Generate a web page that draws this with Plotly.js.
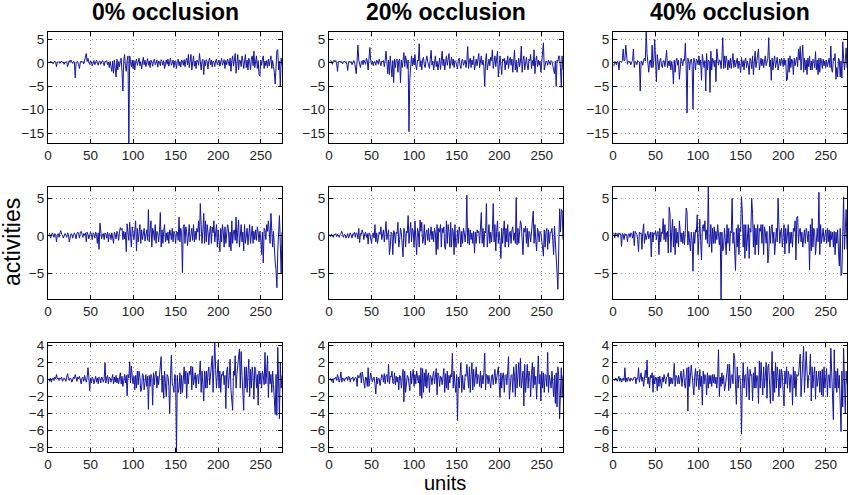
<!DOCTYPE html>
<html>
<head>
<meta charset="utf-8">
<script src="https://cdn.plot.ly/plotly-3.0.1.min.js"></script>
<style>body{margin:0;background:#fff;}</style>
</head>
<body>
<div id="chart-activities" style="width:850px;height:495px;"></div>
<script>
// activities per unit, one array per panel (row = layer, column = occlusion level)
var r1_occ0 = [
 0.2,0.1,0.3,0.2,0.1,-0.2,0.3,0.4,0.1,-0.8,0.2,0.1,0.3,-0.1,0.2,0.4,0.1,0.2,-0.3,0.2,0.1,0.3,-0.8,0.2,0.5,
 0.1,0.6,0.2,-0.1,0.3,0.2,-3.2,0.1,0.3,0.2,-0.4,-1.2,0.2,0.4,0.1,0.3,-0.2,0.5,1.0,2.0,0.3,1.0,0.2,-0.3,0.4,
 0.2,-0.6,0.3,0.5,-0.4,0.2,0.6,0.1,-0.5,0.3,0.4,-0.3,0.2,0.5,0.1,-0.6,0.3,0.2,0.5,-0.4,0.2,-1.0,0.3,-0.8,-1.8,
 0.4,-2.2,0.6,-1.2,-3.0,0.8,-1.5,0.3,-0.8,0.5,1.0,-2.0,-6.0,0.4,1.8,-0.6,-1.8,0.5,1.5,-17.1,1.5,0.3,-0.8,0.6,-1.2,
 0.5,-1.5,0.3,0.8,-0.5,0.4,1.0,-0.6,0.3,-1.3,0.5,1.2,-0.4,0.6,-0.8,0.3,0.9,-0.5,0.4,-1.0,0.6,0.2,-0.7,0.5,0.8,
 -0.4,0.3,0.6,-0.9,0.4,0.2,-0.6,0.7,0.3,-0.5,0.5,-1.2,0.4,0.6,-0.3,0.8,-0.7,0.4,1.0,-0.5,0.3,0.6,-1.0,0.4,0.2,
 -1.2,0.5,0.8,-0.6,0.3,-0.9,0.6,0.4,-0.5,0.7,-0.8,0.5,1.0,-0.4,1.8,-1.0,0.6,1.8,-1.5,0.5,1.5,-0.7,0.4,-1.2,0.6,
 0.4,-0.5,2.0,0.6,-1.5,0.3,0.8,-2.5,0.5,-0.6,0.7,0.3,-1.3,0.5,1.0,-0.4,0.6,-0.9,0.4,0.2,-0.8,0.5,0.8,-0.4,0.3,
 0.6,-0.7,0.4,1.0,-0.5,0.3,0.7,-1.2,0.5,-0.4,0.8,0.3,-0.6,1.0,-1.8,0.5,1.5,-0.7,0.6,2.0,-2.2,0.4,1.8,-1.5,0.6,
 0.5,-0.8,1.5,0.6,-1.2,0.4,1.8,-1.0,0.6,-1.5,1.0,0.3,-1.5,0.8,1.5,-0.6,2.5,-1.0,0.7,1.5,-1.2,0.5,-2.5,-2.8,0.6,
 -0.5,0.8,1.5,-1.2,0.4,-0.6,0.5,-1.0,0.8,-0.6,0.4,1.5,-1.2,0.5,-0.8,-2.0,-4.5,0.6,2.7,2.8,-1.5,0.4,-5.0,1.0,-0.5
];
var r1_occ20 = [
 0.3,0.5,0.2,-0.3,0.4,0.6,0.2,0.5,-0.2,-1.8,0.3,0.2,0.4,0.1,0.3,-0.2,0.2,0.4,0.1,0.3,-0.3,-1.6,0.2,0.4,0.1,
 0.3,-0.4,0.2,0.5,0.3,-0.6,-2.3,0.4,3.8,0.6,-0.5,-1.0,0.3,0.5,-0.4,0.6,0.2,-0.3,1.0,0.4,-1.5,0.3,3.3,0.5,-0.3,
 0.4,-0.6,0.2,0.3,-0.5,0.6,0.4,-0.3,0.8,0.2,-0.6,0.4,0.3,0.5,-0.8,0.6,2.5,0.4,-2.3,0.6,-2.5,1.5,-0.8,-3.0,0.5,
 -4.2,0.8,-1.0,0.6,0.8,-2.0,0.5,0.8,-4.2,0.6,-1.0,0.5,2.2,-0.8,1.5,0.4,-1.2,0.6,-14.7,-3.2,0.5,1.5,-0.6,1.0,-0.4,
 1.8,-0.5,-1.5,0.6,0.4,4.1,-0.8,0.5,-1.5,0.6,1.2,-0.4,-1.0,0.5,1.5,0.3,-0.6,-1.2,0.8,2.7,-0.5,0.4,-1.5,0.6,1.5,
 -0.8,0.4,-1.5,0.6,1.0,-1.4,0.5,2.5,-0.6,0.8,-1.5,0.4,1.5,-0.5,0.6,2.0,-1.2,0.4,1.2,-0.5,0.8,-1.0,0.5,0.3,-0.6,
 -1.3,0.6,1.0,-0.4,-1.2,0.5,0.8,-0.5,0.4,0.6,-1.0,0.5,3.5,-1.2,0.4,1.0,-1.0,0.6,-0.4,1.5,-1.5,0.5,0.8,-0.6,0.4,
 2.0,-1.0,0.5,1.5,-0.4,0.6,-0.8,-5.0,0.5,2.0,-1.5,0.4,0.8,-0.6,1.2,0.5,2.8,-1.2,0.4,1.5,-0.8,0.6,2.5,-3.0,0.5,
 1.5,-0.6,-2.5,0.8,0.4,1.0,-1.5,0.5,-0.4,1.5,-1.2,0.6,1.2,-0.5,0.8,-2.0,0.4,2.7,-1.5,0.6,-2.0,0.5,1.0,-0.8,0.4,
 3.6,-2.0,0.5,1.5,-1.5,0.6,1.2,-0.5,-1.5,0.8,0.4,1.8,-1.2,0.5,-0.6,2.8,-2.3,0.5,1.5,-0.8,0.6,-0.5,0.4,-2.0,0.5,
 0.8,4.3,-1.5,-0.8,0.4,0.3,-0.5,0.6,0.2,-0.4,0.5,0.3,-0.6,-2.0,-2.3,0.4,-5.0,0.6,0.3,1.5,1.4,-1.0,-5.2,1.5,-1.5
];
var r1_occ40 = [
 -0.7,0.3,0.2,-0.4,0.3,0.2,-1.5,0.4,0.3,0.2,0.5,3.0,0.4,0.6,3.8,0.3,-0.3,0.4,0.2,0.3,-0.4,0.2,0.5,3.0,-1.0,
 0.3,0.2,-0.4,0.5,0.3,0.2,-6.0,0.4,0.3,-0.5,0.6,1.0,0.4,6.6,2.0,0.5,-2.0,0.4,0.6,-1.0,3.8,-1.0,0.6,5.0,-0.8,
 -4.0,1.8,0.4,-1.5,0.5,1.0,-0.6,-1.0,0.4,0.5,-0.8,0.6,2.7,-1.0,0.4,-0.6,0.5,-1.5,0.3,-0.8,-4.5,0.6,-2.0,0.4,1.0,
 -0.5,0.6,-3.5,-1.2,1.0,0.4,-0.6,0.8,0.5,4.2,-0.6,-10.7,1.0,0.4,-1.5,0.6,0.8,-0.5,-9.9,1.0,0.4,-1.5,0.8,0.6,-0.4,
 1.5,-0.5,0.6,-3.7,1.8,0.4,-1.0,0.5,-6.0,2.0,-1.5,0.6,0.4,-6.3,2.5,-1.5,1.0,0.5,-0.8,0.6,-4.0,3.0,1.0,-0.5,0.6,
 0.5,-1.2,1.0,5.4,-1.2,1.5,-1.0,1.5,0.5,-1.5,0.6,-1.0,1.0,-1.2,0.4,2.0,-1.0,0.6,-0.8,0.5,1.0,-1.2,0.4,-0.6,-2.0,
 1.2,-0.8,0.5,-1.5,0.6,1.0,-1.0,0.4,-0.6,-2.5,1.0,0.5,-1.2,1.5,-2.5,0.6,2.5,-1.0,0.4,1.2,3.0,-1.5,0.5,1.0,-0.6,
 0.8,-1.0,0.5,1.5,-0.6,0.4,1.0,5.4,-0.8,0.6,-3.7,1.0,-1.5,0.5,1.5,-1.0,0.6,1.2,-1.5,0.4,0.8,-0.6,1.0,0.5,-0.8,
 1.0,-0.5,0.6,-3.8,-3.5,1.0,-2.0,1.5,-1.0,0.8,0.4,-2.5,1.0,-0.6,0.5,1.2,-0.8,3.0,0.6,3.5,-1.5,0.5,3.8,-2.0,1.0,
 -1.5,0.6,-2.5,1.0,-0.8,1.5,-1.5,0.4,-1.5,0.8,0.5,-1.0,2.4,-1.5,0.6,-2.5,1.0,-2.0,1.0,0.5,-1.2,0.8,-0.6,0.4,-1.0,
 0.6,-0.8,0.5,1.0,-1.0,3.6,-1.5,-2.0,1.0,0.5,2.0,-3.5,-1.0,-3.0,1.0,0.6,-3.0,0.4,-3.2,4.5,1.0,-1.5,0.6,3.2,-1.0
];
var r2_occ0 = [
 0.2,0.3,-0.3,0.1,0.4,0.2,-0.2,0.3,0.1,-0.8,0.2,0.3,-0.2,0.4,0.7,0.2,0.1,-0.3,0.2,0.3,0.1,-0.2,0.4,0.2,-0.8,
 0.1,0.3,0.2,-0.3,0.2,0.4,0.1,-0.4,0.3,0.5,0.2,-0.3,0.5,0.6,0.2,-0.2,0.3,0.1,0.4,-0.8,0.5,0.2,-0.4,0.3,0.5,
 0.2,-0.5,0.4,0.3,-0.3,0.5,0.2,-1.0,0.4,-1.8,1.7,0.3,-0.4,0.2,0.3,-0.5,0.4,0.2,-0.3,0.5,-0.8,0.3,0.2,-0.5,0.4,
 -0.3,-1.0,0.5,0.2,-0.4,0.6,0.3,-0.6,0.5,1.1,0.8,1.0,-0.5,0.6,-0.4,0.5,-2.1,1.6,0.4,-0.6,1.8,0.5,-1.5,1.2,0.4,
 -0.5,0.8,2.0,-2.0,1.0,-0.8,0.5,1.5,-1.0,0.8,-0.5,0.6,1.0,-0.7,0.4,0.8,-0.6,3.5,-0.8,0.6,2.0,-1.5,1.0,0.5,-0.6,
 1.5,-1.0,0.6,0.4,-0.8,0.5,3.1,-1.5,0.8,-1.0,0.6,1.5,-0.8,0.4,-0.6,0.5,-1.0,0.8,0.4,-0.5,1.0,-0.8,0.6,0.3,-1.0,
 0.6,0.5,-0.6,2.5,-0.8,1.0,0.4,-4.9,1.2,1.5,-1.0,1.2,0.5,-1.3,0.6,1.5,-0.8,0.4,1.0,-0.6,1.5,-0.8,0.6,-0.5,1.0,
 0.5,2.0,-0.6,4.3,1.5,-1.0,0.6,3.0,-1.0,2.0,-0.8,1.5,0.5,-1.2,0.6,1.3,-1.0,1.2,0.4,2.0,-0.8,0.6,1.5,-1.5,0.8,
 -0.6,-2.1,1.0,-0.8,1.5,0.5,-1.5,1.2,-1.0,0.6,1.5,1.0,-1.5,0.5,-2.0,2.0,-1.0,0.6,0.8,-0.6,2.5,-1.0,0.5,2.1,-1.5,
 0.6,1.5,-0.8,0.5,-2.0,1.5,-1.0,0.6,1.0,-1.2,0.5,1.5,-1.0,0.4,1.3,-1.0,0.6,-0.5,0.8,-0.6,1.2,0.5,-0.8,0.6,-0.4,
 -2.5,0.5,-3.6,1.0,0.8,-0.5,1.5,0.6,2.0,-0.5,-1.0,3.0,-1.0,-1.5,0.6,-2.5,-3.5,-4.5,-6.9,-2.0,0.5,2.7,-1.0,-5.0,0.5
];
var r2_occ20 = [
 0.2,-0.1,0.2,0.1,-0.2,0.2,0.1,0.3,-0.1,0.2,0.1,-0.2,0.2,0.3,0.6,0.1,-0.2,0.2,0.1,-0.3,0.2,0.3,-0.3,0.2,0.4,
 0.1,-0.3,0.3,0.2,0.5,-0.2,0.4,0.3,-0.4,1.0,-0.9,0.3,0.2,0.8,0.4,-0.5,0.3,0.5,-0.2,0.3,-1.1,0.4,0.3,-0.4,-1.0,
 0.2,0.4,-0.3,1.5,-0.8,0.4,-1.0,0.3,0.5,0.2,1.2,-0.5,0.4,0.8,-0.8,0.3,1.9,-0.5,0.4,0.8,-2.5,-1.5,0.5,0.3,-2.5,
 0.7,0.4,-1.0,0.5,0.3,1.8,-1.5,-0.5,1.0,0.4,-0.8,-2.8,1.0,0.5,-1.5,0.6,0.4,2.7,-1.0,0.5,1.8,-0.8,1.0,0.6,-1.5,
 2.0,0.4,-2.5,1.0,0.5,-1.5,2.1,0.6,1.8,-1.0,-0.5,1.5,-1.2,0.4,0.8,-0.6,1.0,-0.8,0.5,1.2,-0.5,0.6,-0.8,1.0,0.4,
 -2.5,1.5,-1.8,1.0,0.5,1.5,-1.5,1.0,0.4,1.2,-1.5,-1.8,2.0,-1.0,1.5,0.5,-1.5,1.8,-1.5,1.0,0.6,-2.5,1.5,-1.5,-1.2,
 0.8,-1.0,1.2,0.5,-1.5,0.6,-1.0,1.0,0.4,-0.8,0.5,5.4,-1.0,1.0,-1.2,0.8,-0.5,0.4,-1.0,0.6,-2.3,0.5,-1.0,0.8,0.4,
 0.6,-1.0,0.8,3.1,-1.0,1.0,-1.5,0.6,0.4,4.3,-1.5,1.0,1.5,-1.0,0.5,-0.8,0.6,4.3,-0.8,1.5,-2.0,0.6,2.0,-1.0,0.5,
 -0.6,-3.0,1.0,-1.0,0.6,2.0,-1.5,1.0,-0.8,1.5,-1.5,0.4,0.6,-1.0,0.8,1.2,-0.6,0.4,-1.0,5.1,-1.2,1.0,-1.0,0.5,2.0,
 1.5,-0.6,-2.5,1.0,0.5,1.3,-1.0,1.0,-1.5,0.6,0.4,-0.8,0.6,1.0,3.3,-1.0,1.5,-0.6,-2.0,1.0,0.5,-0.8,0.6,0.4,-1.0,
 -2.2,-2.7,0.8,-1.5,0.5,1.0,-1.8,0.8,-1.0,0.5,0.4,1.0,-0.6,-2.5,1.3,-1.5,-2.3,-4.9,-7.1,-2.5,3.6,0.5,3.5,3.4,-0.5
];
var r2_occ40 = [
 0.4,-0.3,0.4,0.2,0.3,-0.2,0.4,0.2,0.3,-1.4,0.3,0.2,-0.5,0.3,0.1,0.2,-0.8,0.2,0.3,-0.2,0.4,0.2,-0.3,0.6,-1.3,
 0.6,0.4,0.2,-0.5,-2.1,0.5,0.3,0.4,-1.8,0.5,1.6,-1.0,0.3,-0.5,0.4,0.6,-0.4,0.3,0.5,-2.8,0.5,-0.8,0.4,0.2,0.7,
 -0.5,0.5,0.6,-2.5,1.0,-0.8,0.5,0.3,2.3,-0.5,1.5,-0.8,0.4,0.6,-2.3,3.8,3.0,-2.2,0.5,2.2,-1.5,1.3,-2.5,1.0,-1.0,
 0.5,-1.5,2.0,0.6,-0.8,0.4,-1.0,0.6,-1.2,0.7,3.7,3.2,-1.2,0.6,-1.5,-2.0,0.5,-0.6,-4.7,0.5,-1.0,0.8,0.5,2.8,-2.5,
 1.0,2.2,-0.6,-3.2,1.0,1.5,0.6,2.0,-0.5,0.8,-1.0,6.5,-1.5,-1.0,1.5,-2.2,1.0,-1.0,1.2,-1.0,0.6,-0.5,1.5,0.4,-1.2,
 0.5,-8.4,0.5,-2.0,-1.5,1.0,-0.6,-2.5,1.5,-1.0,1.0,-2.0,0.6,0.4,5.0,-1.0,0.5,-1.5,-4.6,1.0,-1.5,1.5,-2.5,1.0,0.6,
 5.2,3.0,-1.5,1.5,-3.0,1.5,-2.0,0.6,1.5,-3.0,1.0,0.5,5.0,3.0,-1.5,1.5,-2.5,1.0,-1.2,1.5,-2.5,1.0,0.6,1.5,-1.0,
 1.5,-2.5,1.2,0.5,-1.0,0.6,-3.6,-2.5,1.3,-1.0,1.0,1.5,-1.0,0.5,-2.5,0.6,1.0,-0.8,5.0,1.5,-1.0,0.6,1.0,-1.5,0.4,
 1.5,-2.4,1.0,-1.0,0.6,1.5,-2.3,0.5,-1.0,0.5,-1.5,1.0,0.6,2.0,-3.2,2.5,2.6,-1.0,0.6,1.0,-0.8,0.5,-1.5,0.4,0.8,
 -1.0,1.0,0.5,-0.8,0.6,-4.5,1.5,-2.0,2.3,-1.5,1.0,0.6,-2.5,0.5,1.0,-0.8,5.8,-2.5,1.5,-1.0,0.6,1.0,-0.8,0.4,0.8,
 -1.0,1.0,-0.8,0.8,-1.5,0.6,-0.5,0.5,-1.5,0.6,-2.5,0.5,-1.0,0.8,-2.0,-4.0,1.0,-5.3,-5.0,1.0,5.2,-1.8,0.6,3.5,-1.8
];
var r3_occ0 = [
 0.1,-0.2,0.2,-0.3,0.1,0.2,-0.1,0.3,0.1,0.6,0.1,0.2,-0.1,0.2,0.1,0.3,-0.2,0.1,0.2,0.1,-0.2,0.3,0.7,0.1,-0.1,
 0.2,0.1,-0.3,0.2,0.3,0.1,0.6,0.2,-0.2,0.3,0.1,0.4,-0.3,-0.5,0.2,0.3,-0.2,0.5,0.1,-0.3,0.2,1.4,0.3,-1.3,0.2,
 -0.4,0.3,0.1,-0.5,0.2,0.4,-0.3,0.2,-0.5,0.3,0.1,-0.4,0.3,0.2,-0.3,0.1,2.0,-0.4,0.2,0.5,-0.5,0.3,0.2,-0.3,0.1,
 0.6,-0.5,0.3,-0.3,0.5,-0.4,0.2,-0.5,0.3,0.8,-0.5,0.4,-0.8,0.3,0.6,-0.4,0.5,-1.9,0.6,0.2,2.1,-0.4,1.6,0.3,-0.5,
 0.4,-1.2,0.5,-1.0,1.0,-0.6,1.0,0.3,-1.4,-1.1,0.7,0.5,-1.2,0.4,0.6,-0.8,0.4,-3.5,0.5,-0.8,0.6,0.3,-3.0,0.8,-0.6,
 0.6,1.0,-1.0,0.4,-0.6,0.5,0.8,2.7,-1.5,0.5,-2.2,1.0,-0.5,-2.0,0.6,0.4,-0.8,-4.0,0.5,2.9,-0.5,-0.8,-1.5,0.6,0.3,
 -8.5,0.5,-1.5,-1.0,0.8,-1.7,0.5,-1.5,0.6,1.5,-0.5,1.0,-2.2,0.8,-0.5,1.0,0.6,1.6,-1.2,1.5,-0.6,0.4,0.8,-1.0,0.5,
 0.6,-0.5,0.8,2.2,-1.5,1.0,-0.6,-2.5,1.0,-1.0,1.0,-1.0,0.8,1.5,-0.6,0.5,1.0,2.8,-1.5,0.6,4.3,1.2,-1.0,0.6,2.3,
 -1.0,1.0,-1.5,0.6,0.5,1.0,-0.6,0.5,-3.4,1.0,1.5,-1.0,0.5,2.4,-1.2,-2.5,-3.6,1.0,0.5,2.8,-1.0,0.6,1.5,2.8,3.6,
 -1.0,3.3,0.5,-1.2,-3.6,1.5,-1.0,1.5,-1.5,0.6,2.4,-2.0,1.2,-1.0,1.5,0.5,-2.3,1.5,1.2,-1.0,0.6,-3.0,1.0,-0.5,0.8,
 -1.0,1.0,0.5,-0.6,3.2,-0.5,0.8,2.8,-2.1,1.0,-0.5,0.6,-1.5,1.0,-0.6,-2.0,-4.1,0.6,-4.2,3.8,0.5,-4.6,2.0,-1.0,0.5
];
var r3_occ20 = [
 0.2,0.1,-0.2,0.1,-0.4,0.2,0.1,0.3,-0.1,0.6,0.2,-0.3,0.1,0.9,-0.3,0.2,0.1,-0.2,0.2,0.1,0.3,-0.1,0.4,0.3,-0.3,
 0.2,0.1,0.3,-0.2,0.1,0.3,0.2,-0.8,0.5,0.2,0.3,0.8,-0.4,0.9,0.3,-0.5,-1.0,0.3,0.2,-0.8,1.4,-0.8,0.3,0.8,0.2,
 -0.3,0.2,0.3,-0.5,-1.7,0.3,-0.5,0.2,0.1,-0.7,0.3,0.6,0.5,-0.3,0.7,-0.5,0.4,0.6,-0.3,1.8,-0.5,0.4,0.3,1.0,-0.4,
 -0.5,0.8,-0.6,0.4,-0.3,0.3,-1.2,0.5,0.4,-1.0,0.6,1.2,-2.6,1.0,-1.5,-0.5,0.5,0.3,-0.4,-1.3,1.0,-0.5,0.4,1.2,-0.8,
 0.6,-0.5,1.0,0.3,-0.4,0.5,-1.9,1.4,-2.2,1.3,-1.5,0.8,-0.8,1.2,-1.0,0.5,0.8,-1.5,0.5,0.3,-0.6,0.4,1.0,-0.5,0.6,
 1.3,-1.8,0.8,0.5,-0.8,0.4,0.3,-0.6,0.5,1.3,-1.5,0.7,-1.0,1.0,-1.2,0.5,-0.4,0.6,0.3,3.1,-1.0,1.0,-0.5,-1.5,0.6,
 -4.8,0.3,-1.0,0.5,2.0,-1.5,0.5,-1.0,-1.2,0.6,0.4,1.8,-0.5,-1.0,1.5,-1.5,0.6,2.0,-1.2,1.2,-0.8,0.4,1.5,-0.5,0.6,
 0.5,-0.8,1.0,-1.0,0.5,-0.5,0.8,3.1,-1.2,0.6,0.5,-0.5,0.5,-0.8,-1.0,0.4,0.6,-0.6,0.5,1.2,-0.5,0.4,0.8,1.5,-0.6,
 -2.1,0.8,-1.0,0.5,0.8,-1.5,0.5,0.6,-0.6,1.0,2.7,-2.3,-1.0,0.5,0.6,-1.5,1.5,0.4,-2.0,1.8,-1.0,0.6,2.0,-0.8,2.5,
 -1.0,0.5,1.0,-3.1,1.8,-1.5,0.6,1.8,-1.0,1.0,0.4,-2.0,0.6,2.0,-1.0,1.5,-0.6,0.4,-2.3,1.0,2.8,-0.5,0.6,-2.5,1.0,
 -1.0,0.8,-1.5,0.6,0.5,-0.8,3.2,-1.5,0.5,-0.8,-1.0,1.0,-0.6,-2.0,0.5,-2.8,0.8,-3.2,1.5,0.4,-4.6,-2.0,1.4,-2.1,0.5
];
var r3_occ40 = [
 0.1,-0.1,0.2,0.1,-0.2,0.1,0.4,-0.2,0.2,-0.3,0.1,0.2,-0.1,1.4,-0.3,0.2,-0.2,0.3,0.1,-0.2,0.2,0.1,-0.1,0.2,0.3,
 0.3,-0.5,0.2,0.1,1.4,-0.3,0.5,0.8,-0.2,0.3,-0.8,0.4,1.1,0.2,2.3,-0.5,0.3,-1.0,0.5,0.2,0.8,-1.5,0.5,-0.5,0.3,
 0.2,-1.3,0.3,-0.8,0.4,-0.5,-1.0,0.3,-0.3,0.6,0.2,-0.5,0.3,0.4,0.8,-0.8,0.3,-0.5,0.2,-0.5,0.4,1.9,-0.8,0.5,0.3,
 -0.5,0.5,-0.5,0.3,1.0,-0.8,0.5,1.2,-0.5,-1.0,0.4,1.4,-3.7,1.5,-0.8,0.5,1.7,0.5,-0.6,-1.8,0.4,1.3,-0.8,1.0,0.3,
 -1.2,1.2,-0.8,0.4,-3.0,1.0,-0.5,0.6,0.3,-1.8,0.8,-1.0,0.5,-0.5,0.5,-0.8,0.6,-0.4,0.6,-0.5,0.3,-1.0,0.4,3.5,-2.0,
 0.3,-0.8,0.8,-0.5,0.5,-1.3,-0.8,0.4,0.6,1.8,-1.3,1.8,-1.0,0.5,0.6,-0.5,3.1,2.5,-0.6,-2.9,1.5,-1.0,0.5,0.4,-0.6,
 -6.4,-0.5,2.0,-1.0,0.5,0.6,-2.0,1.5,0.4,-2.4,1.2,0.5,0.6,-2.5,0.8,-1.0,1.5,-1.0,0.5,0.4,-2.8,2.2,-1.0,2.0,0.5,
 -1.8,1.5,-1.0,0.4,2.0,-2.2,1.5,1.8,-0.6,-2.8,0.5,3.3,-2.5,1.0,-1.5,2.0,-1.0,1.5,0.4,-2.0,1.2,-1.0,1.2,0.6,-1.5,
 -3.1,1.0,-0.5,1.5,-1.0,1.0,0.4,-1.5,0.6,0.5,-3.0,1.5,-1.0,1.0,-2.0,0.6,0.4,0.5,1.5,3.0,-2.0,0.6,1.5,3.9,-1.5,
 0.6,3.3,1.0,-1.0,0.5,0.6,3.0,-2.5,1.5,-1.0,0.6,1.5,-2.3,1.0,-0.8,0.5,1.0,-1.5,1.0,-1.8,1.2,-2.0,1.5,-1.0,0.6,
 1.3,-2.0,0.5,0.6,-1.0,3.7,1.0,-1.5,-4.7,3.5,-1.0,1.0,-1.5,1.3,-1.0,0.5,-2.7,-6.1,1.0,-3.2,3.7,0.5,-4.0,1.0,-0.5
];

var colTitles = ['0% occlusion', '20% occlusion', '40% occlusion'];
var xTicks = [0, 50, 100, 150, 200, 250];
var rowTicks = [[-15, -10, -5, 0, 5], [-5, 0, 5], [-8, -6, -4, -2, 0, 2, 4]];
var rowRanges = [[-17.1, 6.6], [-8.4, 6.5], [-8.5, 4.3]];
var nUnits = 275;

var panels = [
    [r1_occ0, r1_occ20, r1_occ40],
    [r2_occ0, r2_occ20, r2_occ40],
    [r3_occ0, r3_occ20, r3_occ40]
];

// panel boxes in pixels of the 850x495 page
var W = 850, H = 495;
var colPx = [[48, 282], [329, 563], [613, 847]];
var rowPx = [[32, 143], [187, 299], [343, 452]];

var tickFont = {family: 'Liberation Sans, Arial, sans-serif', size: 13.5, color: '#222'};

function axisStyle() {
    return {
        showline: true, linecolor: '#000', linewidth: 1, mirror: 'ticks',
        ticks: 'inside', ticklen: 4, tickcolor: '#000',
        showgrid: true, gridcolor: '#a0a0a0', gridwidth: 1, griddash: '1px,3px',
        zeroline: false, tickfont: tickFont, fixedrange: true
    };
}

var data = [];
var layout = {
    width: W, height: H,
    margin: {l: 0, r: 0, t: 0, b: 0},
    paper_bgcolor: '#fff', plot_bgcolor: '#fff',
    showlegend: false,
    annotations: []
};

for (var r = 0; r < 3; r++) {
    for (var c = 0; c < 3; c++) {
        var k = r * 3 + c + 1;
        var ys = panels[r][c];
        var xs = ys.map(function (v, i) { return i + 1; });
        data.push({
            x: xs, y: ys, type: 'scatter', mode: 'lines',
            xaxis: 'x' + (k === 1 ? '' : k), yaxis: 'y' + (k === 1 ? '' : k),
            line: {color: 'rgb(20,20,160)', width: 1},
            hoverinfo: 'skip'
        });
        var xa = axisStyle();
        xa.domain = [colPx[c][0] / W, colPx[c][1] / W];
        xa.range = [0, nUnits];
        xa.tickvals = xTicks;
        xa.anchor = 'y' + (k === 1 ? '' : k);
        var ya = axisStyle();
        ya.domain = [1 - rowPx[r][1] / H, 1 - rowPx[r][0] / H];
        ya.range = rowRanges[r];
        ya.tickvals = rowTicks[r];
        ya.anchor = 'x' + (k === 1 ? '' : k);
        layout['xaxis' + (k === 1 ? '' : k)] = xa;
        layout['yaxis' + (k === 1 ? '' : k)] = ya;
    }
}

// column titles
for (var c = 0; c < 3; c++) {
    layout.annotations.push({
        text: '<b>' + colTitles[c] + '</b>',
        xref: 'paper', yref: 'paper',
        x: (colPx[c][0] + colPx[c][1]) / 2 / W, y: 1 - 12 / H,
        xanchor: 'center', yanchor: 'middle', showarrow: false,
        font: {family: 'Liberation Sans, Arial, sans-serif', size: 23, color: '#000'}
    });
}
// shared axis labels
layout.annotations.push({
    text: 'activities', xref: 'paper', yref: 'paper',
    x: 12 / W, y: 1 - 242 / H, xanchor: 'center', yanchor: 'middle',
    textangle: -90, showarrow: false,
    font: {family: 'Liberation Sans, Arial, sans-serif', size: 23, color: '#000'}
});
layout.annotations.push({
    text: 'units', xref: 'paper', yref: 'paper',
    x: 445 / W, y: 0, xanchor: 'center', yanchor: 'bottom',
    showarrow: false, borderpad: 0,
    font: {family: 'Liberation Sans, Arial, sans-serif', size: 20, color: '#000'}
});

Plotly.newPlot('chart-activities', data, layout, {displayModeBar: false, staticPlot: true});
</script>
</body>
</html>
